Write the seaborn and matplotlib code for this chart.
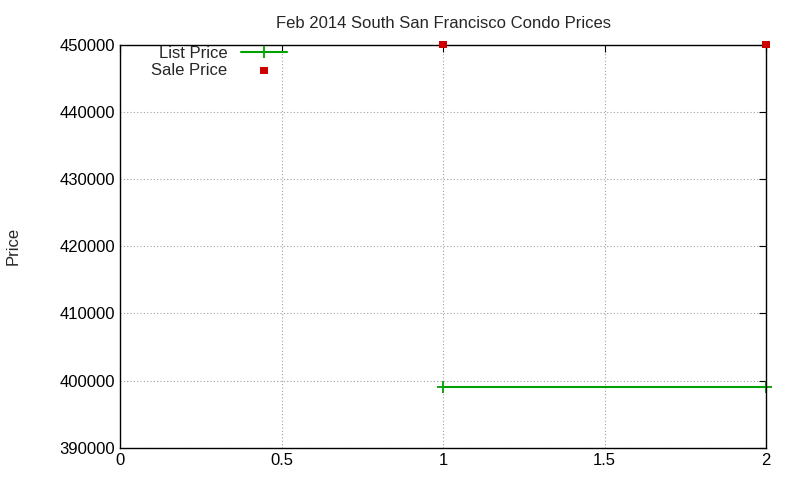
import matplotlib
matplotlib.use("Agg")
import matplotlib.pyplot as plt
import seaborn as sns
import pandas as pd

x_vals = [1, 2]
list_price = [399000, 399000]
sale_price = [450000, 450000]

sns.set_style("white")
plt.rcParams['font.family'] = ['Liberation Sans', 'DejaVu Sans']
fig = plt.figure(figsize=(8, 4.8), dpi=100)
ax = fig.add_axes([0.15, 0.067, 0.8075, 0.84])

df_list = pd.DataFrame({"x": x_vals, "y": list_price})
df_sale = pd.DataFrame({"x": x_vals, "y": sale_price})
sns.lineplot(data=df_list, x="x", y="y", ax=ax, color="#00a000", marker="+",
             markersize=8, markeredgewidth=1.3, markeredgecolor="#00a000",
             linewidth=1.5, label="List Price", clip_on=False)
sns.scatterplot(data=df_sale, x="x", y="y", ax=ax, color="#cc0000", marker="s",
                s=30, edgecolor="none", label="Sale Price", clip_on=False, zorder=5)

ax.set_xlim(0, 2)
ax.set_ylim(390000, 450000)
ax.set_xticks([0, 0.5, 1, 1.5, 2])
ax.set_xticklabels(["0", "0.5", "1", "1.5", "2"])
ax.set_yticks(range(390000, 450001, 10000))
ax.set_yticklabels([str(v) for v in range(390000, 450001, 10000)])
ax.grid(True, color="#a0a0a0", linestyle=(0, (1, 2)), linewidth=0.8)
for s in ax.spines.values():
    s.set_color("black"); s.set_linewidth(1)
ax.tick_params(direction="in", length=5, top=True, right=True, labelsize=12, colors="black")
ax.set_xlabel("")
ax.set_ylabel("Price", fontsize=12, labelpad=28)
ax.set_title("Feb 2014 South San Francisco Condo Prices", fontsize=12, pad=12)
leg = ax.legend(loc="upper left", markerfirst=False, frameon=False, fontsize=12,
                bbox_to_anchor=(0.03, 1.025), handlelength=2.8, borderaxespad=0.3,
                labelspacing=0.1)
for t in leg.get_texts():
    t.set_ha("right")
fig.savefig("out.png", dpi=100)
